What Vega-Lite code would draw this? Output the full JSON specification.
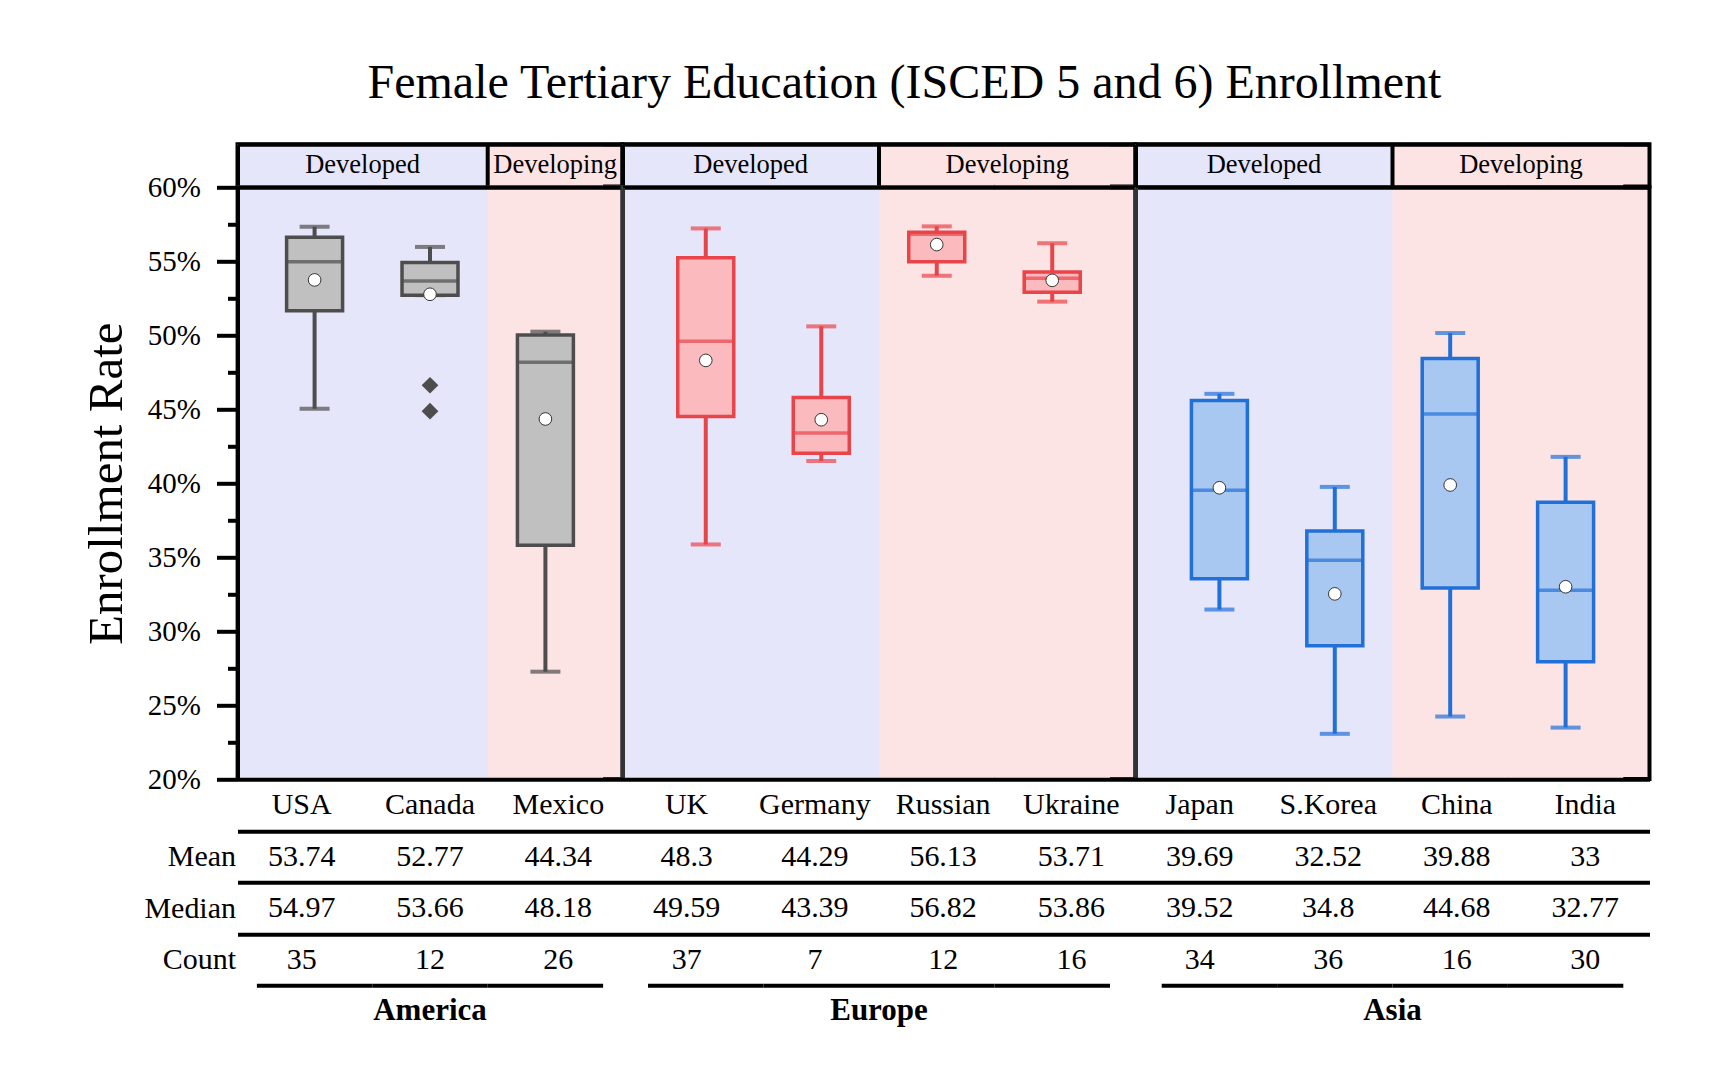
{
  "$schema": "https://vega.github.io/schema/vega-lite/v6.json",
  "background": "white",
  "padding": {"left": 79.5, "top": 59.3, "right": 10, "bottom": 10},
  "title": {"text": "Female Tertiary Education (ISCED 5 and 6) Enrollment", "font": "Liberation Serif", "fontSize": 48, "fontWeight": "normal", "color": "black", "anchor": "middle", "frame": "bounds", "dx": 38.5, "offset": 32.5},
  "config": {"font": "Liberation Serif", "view": {"stroke": null}},
  "datasets": {
    "boxes": [
      {"country": "USA", "region": "America", "status": "Developed", "min": 45.03, "q1": 51.66, "Median": 54.97, "q3": 56.63, "max": 57.33, "Mean": 53.74, "Count": 35},
      {"country": "Canada", "region": "America", "status": "Developed", "min": 52.71, "q1": 52.71, "Median": 53.66, "q3": 54.91, "max": 55.97, "Mean": 52.77, "Count": 12},
      {"country": "Mexico", "region": "America", "status": "Developing", "min": 27.26, "q1": 35.8, "Median": 48.18, "q3": 50.01, "max": 50.24, "Mean": 44.34, "Count": 26},
      {"country": "UK", "region": "Europe", "status": "Developed", "min": 35.86, "q1": 44.51, "Median": 49.59, "q3": 55.24, "max": 57.22, "Mean": 48.3, "Count": 37},
      {"country": "Germany", "region": "Europe", "status": "Developed", "min": 41.5, "q1": 42.03, "Median": 43.39, "q3": 45.79, "max": 50.6, "Mean": 44.29, "Count": 7},
      {"country": "Russian", "region": "Europe", "status": "Developing", "min": 54.02, "q1": 54.97, "Median": 56.82, "q3": 56.97, "max": 57.36, "Mean": 56.13, "Count": 12},
      {"country": "Ukraine", "region": "Europe", "status": "Developing", "min": 52.27, "q1": 52.91, "Median": 53.86, "q3": 54.27, "max": 56.22, "Mean": 53.71, "Count": 16},
      {"country": "Japan", "region": "Asia", "status": "Developed", "min": 31.46, "q1": 33.55, "Median": 39.52, "q3": 45.59, "max": 46.04, "Mean": 39.69, "Count": 34},
      {"country": "S.Korea", "region": "Asia", "status": "Developed", "min": 23.06, "q1": 29.01, "Median": 34.8, "q3": 36.77, "max": 39.75, "Mean": 32.52, "Count": 36},
      {"country": "China", "region": "Asia", "status": "Developing", "min": 24.23, "q1": 32.91, "Median": 44.68, "q3": 48.43, "max": 50.15, "Mean": 39.88, "Count": 16},
      {"country": "India", "region": "Asia", "status": "Developing", "min": 23.48, "q1": 27.93, "Median": 32.77, "q3": 38.72, "max": 41.78, "Mean": 33, "Count": 30}
    ],
    "outliers": [
      {"country": "Canada", "region": "America", "value": 46.62},
      {"country": "Canada", "region": "America", "value": 44.87}
    ],
    "regions": [{"region": "America"}, {"region": "Europe"}, {"region": "Asia"}]
  },
  "spacing": 0,
  "bounds": "flush",
  "columns": 3,
  "concat": [
    {
      "width": 385, "height": 42.2,
      "view": {"fill": "#fde4e4", "stroke": "black", "strokeWidth": 4},
      "data": {"name": "boxes"}, "transform": [{"filter": "datum.region === 'America'"}],
      "encoding": {"x": {"field": "country", "type": "nominal", "scale": {"domain": ["USA", "Canada", "Mexico"], "paddingInner": 0, "paddingOuter": 0.168},
        "axis": {"orient": "top", "labels": false, "ticks": false, "title": null, "grid": false, "domain": true, "domainColor": "black", "domainWidth": 4, "zindex": 1}}},
      "layer": [
        {"transform": [{"filter": "datum.status === 'Developed'"}], "mark": {"type": "bar", "width": {"band": 2}, "color": "#e6e6fa", "clip": true}},
        {"transform": [{"filter": "datum.status === 'Developing'"}], "mark": {"type": "bar", "width": {"band": 1}, "color": "#fde4e4"}},
        {"transform": [{"filter": "datum.status === 'Developing'"}, {"window": [{"op": "row_number", "as": "rn"}]}, {"filter": "datum.rn === 1"}],
         "mark": {"type": "rule", "color": "black", "strokeWidth": 4}, "encoding": {"x": {"field": "country", "type": "nominal", "bandPosition": 0}}},
        {"transform": [{"filter": "datum.country === 'Canada'"}], "mark": {"type": "text", "fontSize": 26.5, "color": "black", "dx": -9.7},
         "encoding": {"x": {"field": "country", "type": "nominal", "bandPosition": 0}, "text": {"field": "status"}}},
        {"transform": [{"filter": "datum.country === 'Mexico'"}], "mark": {"type": "text", "fontSize": 26.5, "color": "black", "dx": 9.7},
         "encoding": {"text": {"field": "status"}}},
        {"mark": {"type": "point", "opacity": 0},
         "encoding": {"y": {"field": "region", "type": "nominal", "axis": {"orient": "left", "labels": false, "ticks": false, "title": null, "grid": false, "domainColor": "black", "domainWidth": 4, "zindex": 1}}}}
      ]
    },
    {
      "width": 513, "height": 42.2,
      "view": {"fill": "#fde4e4", "stroke": "black", "strokeWidth": 4},
      "data": {"name": "boxes"}, "transform": [{"filter": "datum.region === 'Europe'"}],
      "encoding": {"x": {"field": "country", "type": "nominal", "scale": {"domain": ["UK", "Germany", "Russian", "Ukraine"], "paddingInner": 0, "paddingOuter": 0.221},
        "axis": {"orient": "top", "labels": false, "ticks": false, "title": null, "grid": false, "domain": true, "domainColor": "black", "domainWidth": 4, "zindex": 1}}},
      "layer": [
        {"transform": [{"filter": "datum.status === 'Developed'"}], "mark": {"type": "bar", "width": {"band": 2}, "color": "#e6e6fa", "clip": true}},
        {"transform": [{"filter": "datum.status === 'Developing'"}], "mark": {"type": "bar", "width": {"band": 1}, "color": "#fde4e4"}},
        {"transform": [{"filter": "datum.status === 'Developing'"}, {"window": [{"op": "row_number", "as": "rn"}]}, {"filter": "datum.rn === 1"}],
         "mark": {"type": "rule", "color": "black", "strokeWidth": 4}, "encoding": {"x": {"field": "country", "type": "nominal", "bandPosition": 0}}},
        {"transform": [{"filter": "datum.country === 'Germany'"}], "mark": {"type": "text", "fontSize": 26.5, "color": "black", "dx": -12.8},
         "encoding": {"x": {"field": "country", "type": "nominal", "bandPosition": 0}, "text": {"field": "status"}}},
        {"transform": [{"filter": "datum.country === 'Ukraine'"}], "mark": {"type": "text", "fontSize": 26.5, "color": "black", "dx": 12.8},
         "encoding": {"x": {"field": "country", "type": "nominal", "bandPosition": 0}, "text": {"field": "status"}}},
        {"mark": {"type": "point", "opacity": 0},
         "encoding": {"y": {"field": "region", "type": "nominal", "axis": {"orient": "left", "labels": false, "ticks": false, "title": null, "grid": false, "domainColor": "black", "domainWidth": 4, "zindex": 1}}}}
      ]
    },
    {
      "width": 514, "height": 42.2,
      "view": {"fill": "#fde4e4", "stroke": "black", "strokeWidth": 4},
      "data": {"name": "boxes"}, "transform": [{"filter": "datum.region === 'Asia'"}],
      "encoding": {"x": {"field": "country", "type": "nominal", "scale": {"domain": ["Japan", "S.Korea", "China", "India"], "paddingInner": 0, "paddingOuter": 0.227},
        "axis": {"orient": "top", "labels": false, "ticks": false, "title": null, "grid": false, "domain": true, "domainColor": "black", "domainWidth": 4, "zindex": 1}}},
      "layer": [
        {"transform": [{"filter": "datum.status === 'Developed'"}], "mark": {"type": "bar", "width": {"band": 2}, "color": "#e6e6fa", "clip": true}},
        {"transform": [{"filter": "datum.status === 'Developing'"}], "mark": {"type": "bar", "width": {"band": 1}, "color": "#fde4e4"}},
        {"transform": [{"filter": "datum.status === 'Developing'"}, {"window": [{"op": "row_number", "as": "rn"}]}, {"filter": "datum.rn === 1"}],
         "mark": {"type": "rule", "color": "black", "strokeWidth": 4}, "encoding": {"x": {"field": "country", "type": "nominal", "bandPosition": 0}}},
        {"transform": [{"filter": "datum.country === 'S.Korea'"}], "mark": {"type": "text", "fontSize": 26.5, "color": "black", "dx": -13.1},
         "encoding": {"x": {"field": "country", "type": "nominal", "bandPosition": 0}, "text": {"field": "status"}}},
        {"transform": [{"filter": "datum.country === 'India'"}], "mark": {"type": "text", "fontSize": 26.5, "color": "black", "dx": 13.1},
         "encoding": {"x": {"field": "country", "type": "nominal", "bandPosition": 0}, "text": {"field": "status"}}},
        {"mark": {"type": "point", "opacity": 0},
         "encoding": {"y": {"field": "region", "type": "nominal", "axis": {"orient": "left", "labels": false, "ticks": false, "title": null, "grid": false, "domainColor": "black", "domainWidth": 4, "zindex": 1}}}}
      ]
    },
    {
      "width": 385, "height": 591.8,
      "view": {"fill": "#fde4e4", "stroke": "#333333", "strokeWidth": 4},
      "data": {"name": "boxes"},
      "transform": [{"filter": "datum.region === 'America'"}],
      "resolve": {"axis": {"y": "independent"}},
      "encoding": {"x": {"field": "country", "type": "nominal", "scale": {"domain": ["USA", "Canada", "Mexico"], "paddingInner": 0, "paddingOuter": 0.168},
        "axis": {"orient": "top", "labels": false, "ticks": false, "title": null, "grid": false, "domain": true, "domainColor": "black", "domainWidth": 4, "zindex": 1}}},
      "layer": [
        {"transform": [{"filter": "datum.status === 'Developed'"}], "mark": {"type": "bar", "width": {"band": 2}, "color": "#e6e6fa", "clip": true}},
        {"transform": [{"filter": "datum.status === 'Developing'"}], "mark": {"type": "bar", "width": {"band": 1}, "color": "#fde4e4"}},
        {"mark": {"type": "rule", "color": "#4d4d4d", "strokeWidth": 4},
         "encoding": {"y": {"field": "min", "type": "quantitative", "scale": {"domain": [20, 60], "nice": false, "zero": false},
           "axis": {"orient": "left", "values": [20, 25, 30, 35, 40, 45, 50, 55, 60],
             "labelExpr": "datum.value + '%'",
             "tickSize": 21, "tickWidth": 4, "tickColor": "black",
             "domain": true, "domainColor": "black", "domainWidth": 4, "grid": false, "zindex": 1,
             "labelFont": "Liberation Serif", "labelFontSize": 29, "labelColor": "black", "labelPadding": 16, "labelOverlap": false,
             "title": "Enrollment Rate", "titleFont": "Liberation Serif", "titleFontSize": 49, "titleFontWeight": "normal", "titleColor": "black", "titlePadding": 16}},
           "y2": {"field": "max"}}},
        {"mark": {"type": "tick", "orient": "horizontal", "color": "#4d4d4d", "size": 30, "thickness": 4},
         "encoding": {"y": {"field": "max", "type": "quantitative", "scale": {"domain": [20, 60], "nice": false, "zero": false},
           "axis": {"orient": "left", "values": [22.5, 27.5, 32.5, 37.5, 42.5, 47.5, 52.5, 57.5], "tickSize": 10, "tickWidth": 4, "tickColor": "black",
             "labels": false, "domain": false, "grid": false, "title": null, "zindex": 1}}}},
        {"mark": {"type": "tick", "orient": "horizontal", "color": "#4d4d4d", "size": 30, "thickness": 4},
         "encoding": {"y": {"field": "min", "type": "quantitative", "scale": {"domain": [20, 60], "nice": false, "zero": false}, "axis": null}}},
        {"mark": {"type": "bar", "width": {"band": 0.485}, "fill": "#c0c0c0", "stroke": "#4d4d4d", "strokeWidth": 3.5},
         "encoding": {"y": {"field": "q1", "type": "quantitative", "scale": {"domain": [20, 60], "nice": false, "zero": false}, "axis": null}, "y2": {"field": "q3"}}},
        {"mark": {"type": "tick", "orient": "horizontal", "color": "#4d4d4d", "size": 56, "thickness": 3.5},
         "encoding": {"y": {"field": "Median", "type": "quantitative", "scale": {"domain": [20, 60], "nice": false, "zero": false}, "axis": null}}},
        {"mark": {"type": "point", "shape": "circle", "filled": true, "fill": "white", "stroke": "#333333", "strokeWidth": 1, "size": 160, "opacity": 1},
         "encoding": {"y": {"field": "Mean", "type": "quantitative", "scale": {"domain": [20, 60], "nice": false, "zero": false}, "axis": null}}},
        {"data": {"name": "outliers"}, "transform": [{"filter": "datum.region === 'America'"}],
         "mark": {"type": "point", "shape": "diamond", "filled": true, "color": "#4d4d4d", "size": 280, "opacity": 1},
         "encoding": {"y": {"field": "value", "type": "quantitative", "scale": {"domain": [20, 60], "nice": false, "zero": false}, "axis": null}}}
      ]
    },
    {
      "width": 513, "height": 591.8,
      "view": {"fill": "#fde4e4", "stroke": "#333333", "strokeWidth": 4},
      "data": {"name": "boxes"},
      "transform": [{"filter": "datum.region === 'Europe'"}],
      "encoding": {"x": {"field": "country", "type": "nominal", "scale": {"domain": ["UK", "Germany", "Russian", "Ukraine"], "paddingInner": 0, "paddingOuter": 0.221},
        "axis": {"orient": "top", "labels": false, "ticks": false, "title": null, "grid": false, "domain": true, "domainColor": "black", "domainWidth": 4, "zindex": 1}}},
      "layer": [
        {"transform": [{"filter": "datum.status === 'Developed'"}], "mark": {"type": "bar", "width": {"band": 2}, "color": "#e6e6fa", "clip": true}},
        {"transform": [{"filter": "datum.status === 'Developing'"}], "mark": {"type": "bar", "width": {"band": 1}, "color": "#fde4e4"}},
        {"mark": {"type": "rule", "color": "#e8454a", "strokeWidth": 4},
         "encoding": {"y": {"field": "min", "type": "quantitative", "scale": {"domain": [20, 60], "nice": false, "zero": false},
           "axis": {"labels": false, "ticks": false, "title": null, "grid": false, "domain": true, "domainColor": "#333333", "domainWidth": 4, "zindex": 1}},
           "y2": {"field": "max"}}},
        {"mark": {"type": "tick", "orient": "horizontal", "color": "#e8454a", "size": 30, "thickness": 4},
         "encoding": {"y": {"field": "max", "type": "quantitative", "scale": {"domain": [20, 60], "nice": false, "zero": false}}}},
        {"mark": {"type": "tick", "orient": "horizontal", "color": "#e8454a", "size": 30, "thickness": 4},
         "encoding": {"y": {"field": "min", "type": "quantitative", "scale": {"domain": [20, 60], "nice": false, "zero": false}}}},
        {"mark": {"type": "bar", "width": {"band": 0.485}, "fill": "#fbbabd", "stroke": "#e8454a", "strokeWidth": 3.5},
         "encoding": {"y": {"field": "q1", "type": "quantitative", "scale": {"domain": [20, 60], "nice": false, "zero": false}}, "y2": {"field": "q3"}}},
        {"mark": {"type": "tick", "orient": "horizontal", "color": "#e8454a", "size": 56, "thickness": 3.5},
         "encoding": {"y": {"field": "Median", "type": "quantitative", "scale": {"domain": [20, 60], "nice": false, "zero": false}}}},
        {"mark": {"type": "point", "shape": "circle", "filled": true, "fill": "white", "stroke": "#333333", "strokeWidth": 1, "size": 160, "opacity": 1},
         "encoding": {"y": {"field": "Mean", "type": "quantitative", "scale": {"domain": [20, 60], "nice": false, "zero": false}}}}
      ]
    },
    {
      "width": 514, "height": 591.8,
      "view": {"fill": "#fde4e4", "stroke": "black", "strokeWidth": 4},
      "data": {"name": "boxes"},
      "transform": [{"filter": "datum.region === 'Asia'"}],
      "encoding": {"x": {"field": "country", "type": "nominal", "scale": {"domain": ["Japan", "S.Korea", "China", "India"], "paddingInner": 0, "paddingOuter": 0.227},
        "axis": {"orient": "top", "labels": false, "ticks": false, "title": null, "grid": false, "domain": true, "domainColor": "black", "domainWidth": 4, "zindex": 1}}},
      "layer": [
        {"transform": [{"filter": "datum.status === 'Developed'"}], "mark": {"type": "bar", "width": {"band": 2}, "color": "#e6e6fa", "clip": true}},
        {"transform": [{"filter": "datum.status === 'Developing'"}], "mark": {"type": "bar", "width": {"band": 1}, "color": "#fde4e4"}},
        {"mark": {"type": "rule", "color": "#2170d8", "strokeWidth": 4},
         "encoding": {"y": {"field": "min", "type": "quantitative", "scale": {"domain": [20, 60], "nice": false, "zero": false},
           "axis": {"labels": false, "ticks": false, "title": null, "grid": false, "domain": true, "domainColor": "#333333", "domainWidth": 4, "zindex": 1}},
           "y2": {"field": "max"}}},
        {"mark": {"type": "tick", "orient": "horizontal", "color": "#2170d8", "size": 30, "thickness": 4},
         "encoding": {"y": {"field": "max", "type": "quantitative", "scale": {"domain": [20, 60], "nice": false, "zero": false}}}},
        {"mark": {"type": "tick", "orient": "horizontal", "color": "#2170d8", "size": 30, "thickness": 4},
         "encoding": {"y": {"field": "min", "type": "quantitative", "scale": {"domain": [20, 60], "nice": false, "zero": false}}}},
        {"mark": {"type": "bar", "width": {"band": 0.485}, "fill": "#a9c8f1", "stroke": "#2170d8", "strokeWidth": 3.5},
         "encoding": {"y": {"field": "q1", "type": "quantitative", "scale": {"domain": [20, 60], "nice": false, "zero": false}}, "y2": {"field": "q3"}}},
        {"mark": {"type": "tick", "orient": "horizontal", "color": "#2170d8", "size": 56, "thickness": 3.5},
         "encoding": {"y": {"field": "Median", "type": "quantitative", "scale": {"domain": [20, 60], "nice": false, "zero": false}}}},
        {"mark": {"type": "point", "shape": "circle", "filled": true, "fill": "white", "stroke": "#333333", "strokeWidth": 1, "size": 160, "opacity": 1},
         "encoding": {"y": {"field": "Mean", "type": "quantitative", "scale": {"domain": [20, 60], "nice": false, "zero": false}}}}
      ]
    },
    {
      "width": 385, "height": 258,
      "resolve": {"scale": {"x": "independent"}},
      "layer": [
        {"data": {"name": "boxes"}, "transform": [{"filter": "datum.region === 'America'"}],
         "mark": {"type": "text", "fontSize": 30, "color": "black"},
         "encoding": {
           "x": {"field": "country", "type": "nominal", "scale": {"domain": ["USA", "Canada", "Mexico"], "paddingInner": 0, "paddingOuter": 0.04}, "axis": null},
           "y": {"datum": "name", "type": "nominal"},
           "text": {"field": "country"}}},
        {"data": {"name": "boxes"}, "transform": [{"filter": "datum.region === 'America'"}, {"fold": ["Mean", "Median", "Count"], "as": ["stat", "val"]}],
         "mark": {"type": "text", "fontSize": 30, "color": "black"},
         "encoding": {
           "x": {"field": "country", "type": "nominal", "scale": {"domain": ["USA", "Canada", "Mexico"], "paddingInner": 0, "paddingOuter": 0.04}, "axis": null},
           "y": {"field": "stat", "type": "nominal", "scale": {"domain": ["name", "Mean", "Median", "Count", "region"], "paddingInner": 0, "paddingOuter": 0},
             "axis": {"title": null, "ticks": false, "tickSize": 0, "domain": false, "labelPadding": 2, "labelFont": "Liberation Serif", "labelFontSize": 30, "labelColor": "black",
               "labelExpr": "indexof(['Mean','Median','Count'], datum.value) >= 0 ? datum.value : ''",
               "grid": true, "tickBand": "extent", "gridWidth": 4, "zindex": 1,
               "gridColor": {"condition": {"test": "datum.value === 'Count' || datum.value === 'region'", "value": "transparent"}, "value": "black"}}},
           "text": {"field": "val", "type": "nominal"}}},
        {"data": {"name": "boxes"}, "transform": [{"filter": "datum.region === 'America'"}],
         "mark": {"type": "rule", "color": "black", "strokeWidth": 4},
         "encoding": {
           "x": {"field": "country", "type": "nominal", "bandPosition": 0, "scale": {"domain": ["USA", "Canada", "Mexico"], "paddingInner": 0, "paddingOuter": 0.168}, "axis": null},
           "x2": {"field": "country", "bandPosition": 1},
           "y": {"datum": "region", "type": "nominal", "bandPosition": 0}}},
        {"data": {"name": "regions"}, "transform": [{"filter": "datum.region === 'America'"}],
         "mark": {"type": "text", "fontSize": 31, "fontWeight": "bold", "color": "black"},
         "encoding": {"y": {"datum": "region", "type": "nominal"}, "text": {"field": "region"}}}
      ]
    },
    {
      "width": 513, "height": 258,
      "resolve": {"scale": {"x": "independent"}},
      "layer": [
        {"data": {"name": "boxes"}, "transform": [{"filter": "datum.region === 'Europe'"}],
         "mark": {"type": "text", "fontSize": 30, "color": "black"},
         "encoding": {
           "x": {"field": "country", "type": "nominal", "scale": {"domain": ["UK", "Germany", "Russian", "Ukraine"], "paddingInner": 0, "paddingOuter": 0.065}, "axis": null},
           "y": {"datum": "name", "type": "nominal"},
           "text": {"field": "country"}}},
        {"data": {"name": "boxes"}, "transform": [{"filter": "datum.region === 'Europe'"}, {"fold": ["Mean", "Median", "Count"], "as": ["stat", "val"]}],
         "mark": {"type": "text", "fontSize": 30, "color": "black"},
         "encoding": {
           "x": {"field": "country", "type": "nominal", "scale": {"domain": ["UK", "Germany", "Russian", "Ukraine"], "paddingInner": 0, "paddingOuter": 0.065}, "axis": null},
           "y": {"field": "stat", "type": "nominal", "scale": {"domain": ["name", "Mean", "Median", "Count", "region"], "paddingInner": 0, "paddingOuter": 0},
             "axis": {"title": null, "ticks": false, "tickSize": 0, "domain": false, "labels": false,
               "grid": true, "tickBand": "extent", "gridWidth": 4, "zindex": 1,
               "gridColor": {"condition": {"test": "datum.value === 'Count' || datum.value === 'region'", "value": "transparent"}, "value": "black"}}},
           "text": {"field": "val", "type": "nominal"}}},
        {"data": {"name": "boxes"}, "transform": [{"filter": "datum.region === 'Europe'"}],
         "mark": {"type": "rule", "color": "black", "strokeWidth": 4},
         "encoding": {
           "x": {"field": "country", "type": "nominal", "bandPosition": 0, "scale": {"domain": ["UK", "Germany", "Russian", "Ukraine"], "paddingInner": 0, "paddingOuter": 0.221}, "axis": null},
           "x2": {"field": "country", "bandPosition": 1},
           "y": {"datum": "region", "type": "nominal", "bandPosition": 0}}},
        {"data": {"name": "regions"}, "transform": [{"filter": "datum.region === 'Europe'"}],
         "mark": {"type": "text", "fontSize": 31, "fontWeight": "bold", "color": "black"},
         "encoding": {"y": {"datum": "region", "type": "nominal"}, "text": {"field": "region"}}}
      ]
    },
    {
      "width": 514, "height": 258,
      "resolve": {"scale": {"x": "independent"}},
      "layer": [
        {"data": {"name": "boxes"}, "transform": [{"filter": "datum.region === 'Asia'"}],
         "mark": {"type": "text", "fontSize": 30, "color": "black"},
         "encoding": {
           "x": {"field": "country", "type": "nominal", "scale": {"domain": ["Japan", "S.Korea", "China", "India"], "paddingInner": 0, "paddingOuter": 0.075}, "axis": null},
           "y": {"datum": "name", "type": "nominal"},
           "text": {"field": "country"}}},
        {"data": {"name": "boxes"}, "transform": [{"filter": "datum.region === 'Asia'"}, {"fold": ["Mean", "Median", "Count"], "as": ["stat", "val"]}],
         "mark": {"type": "text", "fontSize": 30, "color": "black"},
         "encoding": {
           "x": {"field": "country", "type": "nominal", "scale": {"domain": ["Japan", "S.Korea", "China", "India"], "paddingInner": 0, "paddingOuter": 0.075}, "axis": null},
           "y": {"field": "stat", "type": "nominal", "scale": {"domain": ["name", "Mean", "Median", "Count", "region"], "paddingInner": 0, "paddingOuter": 0},
             "axis": {"title": null, "ticks": false, "tickSize": 0, "domain": false, "labels": false,
               "grid": true, "tickBand": "extent", "gridWidth": 4, "zindex": 1,
               "gridColor": {"condition": {"test": "datum.value === 'Count' || datum.value === 'region'", "value": "transparent"}, "value": "black"}}},
           "text": {"field": "val", "type": "nominal"}}},
        {"data": {"name": "boxes"}, "transform": [{"filter": "datum.region === 'Asia'"}],
         "mark": {"type": "rule", "color": "black", "strokeWidth": 4},
         "encoding": {
           "x": {"field": "country", "type": "nominal", "bandPosition": 0, "scale": {"domain": ["Japan", "S.Korea", "China", "India"], "paddingInner": 0, "paddingOuter": 0.227}, "axis": null},
           "x2": {"field": "country", "bandPosition": 1},
           "y": {"datum": "region", "type": "nominal", "bandPosition": 0}}},
        {"data": {"name": "regions"}, "transform": [{"filter": "datum.region === 'Asia'"}],
         "mark": {"type": "text", "fontSize": 31, "fontWeight": "bold", "color": "black"},
         "encoding": {"y": {"datum": "region", "type": "nominal"}, "text": {"field": "region"}}}
      ]
    }
  ]
}
